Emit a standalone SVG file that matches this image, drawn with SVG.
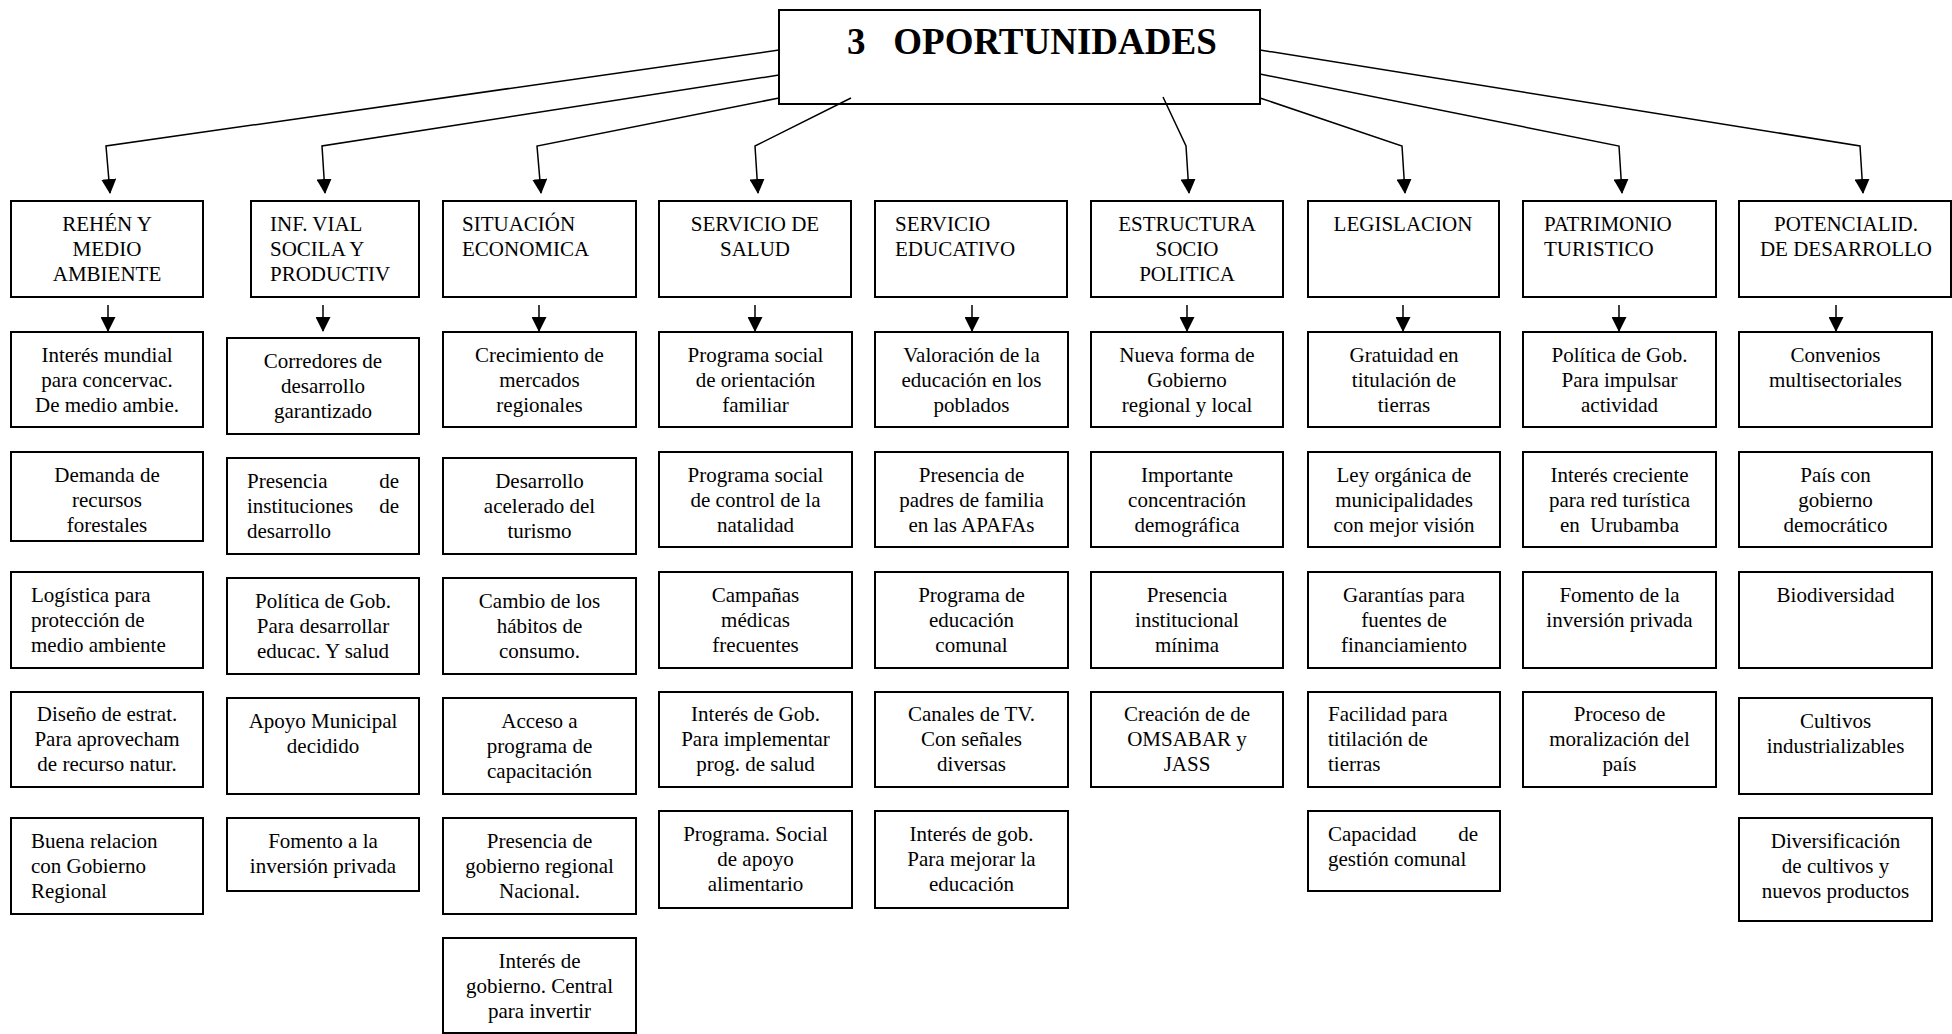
<svg xmlns="http://www.w3.org/2000/svg" width="1952" height="1034" viewBox="0 0 1952 1034">
<style>
.box{fill:#fff;stroke:#000;stroke-width:2}
.t{font-family:"Liberation Serif","Times New Roman",serif;font-size:21px;fill:#000}
.c{text-anchor:middle}
.ttl{font-family:"Liberation Serif","Times New Roman",serif;font-size:37px;font-weight:bold;fill:#000}
.conn{fill:none;stroke:#000;stroke-width:1.5;marker-end:url(#ah)}
</style>
<defs>
<marker id="ah" markerUnits="userSpaceOnUse" markerWidth="15" markerHeight="15" viewBox="0 0 15 15" refX="14" refY="7.5" orient="auto"><path d="M0,0 L15,7.5 L0,15 z" fill="#000"/></marker>
</defs>
<rect width="1952" height="1034" fill="#fff"/>

<g id="root"><rect class="box" x="779" y="10" width="481" height="94"/><text class="ttl" x="847" y="54" xml:space="preserve">3   OPORTUNIDADES</text></g>

<g id="connectors">
<polyline class="conn" points="779,50 106,146 110,193"/>
<polyline class="conn" points="779,75 322,146 325,193"/>
<polyline class="conn" points="779,98 537,146 541,193"/>
<polyline class="conn" points="851,98 755,146 758,193"/>
<polyline class="conn" points="1163,97 1186,146 1189,193"/>
<polyline class="conn" points="1260,98 1402,146 1405,193"/>
<polyline class="conn" points="1260,74 1619,146 1622,193"/>
<polyline class="conn" points="1260,50 1860,146 1863,193"/>
<line class="conn" x1="108" y1="305" x2="108" y2="331"/>
<line class="conn" x1="323" y1="305" x2="323" y2="331"/>
<line class="conn" x1="539" y1="305" x2="539" y2="331"/>
<line class="conn" x1="755" y1="305" x2="755" y2="331"/>
<line class="conn" x1="972" y1="305" x2="972" y2="331"/>
<line class="conn" x1="1187" y1="305" x2="1187" y2="331"/>
<line class="conn" x1="1403" y1="305" x2="1403" y2="331"/>
<line class="conn" x1="1619" y1="305" x2="1619" y2="331"/>
<line class="conn" x1="1836" y1="305" x2="1836" y2="331"/>
</g>

<g id="cat1"><rect class="box" x="11" y="201" width="192" height="96"/><text class="t c"><tspan x="107" y="231">REHÉN Y</tspan><tspan x="107" y="256">MEDIO</tspan><tspan x="107" y="281">AMBIENTE</tspan></text></g>
<g id="cat2"><rect class="box" x="251" y="201" width="168" height="96"/><text class="t"><tspan x="270" y="231">INF. VIAL</tspan><tspan x="270" y="256">SOCILA Y</tspan><tspan x="270" y="281">PRODUCTIV</tspan></text></g>
<g id="cat3"><rect class="box" x="443" y="201" width="193" height="96"/><text class="t"><tspan x="462" y="231">SITUACIÓN</tspan><tspan x="462" y="256">ECONOMICA</tspan></text></g>
<g id="cat4"><rect class="box" x="659" y="201" width="192" height="96"/><text class="t c"><tspan x="755" y="231">SERVICIO DE</tspan><tspan x="755" y="256">SALUD</tspan></text></g>
<g id="cat5"><rect class="box" x="875" y="201" width="192" height="96"/><text class="t"><tspan x="895" y="231">SERVICIO</tspan><tspan x="895" y="256">EDUCATIVO</tspan></text></g>
<g id="cat6"><rect class="box" x="1091" y="201" width="192" height="96"/><text class="t c"><tspan x="1187" y="231">ESTRUCTURA</tspan><tspan x="1187" y="256">SOCIO</tspan><tspan x="1187" y="281">POLITICA</tspan></text></g>
<g id="cat7"><rect class="box" x="1308" y="201" width="191" height="96"/><text class="t c"><tspan x="1403" y="231">LEGISLACION</tspan></text></g>
<g id="cat8"><rect class="box" x="1523" y="201" width="193" height="96"/><text class="t"><tspan x="1544" y="231">PATRIMONIO</tspan><tspan x="1544" y="256">TURISTICO</tspan></text></g>
<g id="cat9"><rect class="box" x="1739" y="201" width="212" height="96"/><text class="t c"><tspan x="1846" y="231">POTENCIALID.</tspan><tspan x="1846" y="256">DE DESARROLLO</tspan></text></g>

<g id="c1r1"><rect class="box" x="11" y="332" width="192" height="95"/><text class="t c"><tspan x="107" y="362">Interés mundial</tspan><tspan x="107" y="387">para concervac.</tspan><tspan x="107" y="412">De medio ambie.</tspan></text></g>
<g id="c1r2"><rect class="box" x="11" y="452" width="192" height="89"/><text class="t c"><tspan x="107" y="482">Demanda de</tspan><tspan x="107" y="507">recursos</tspan><tspan x="107" y="532">forestales</tspan></text></g>
<g id="c1r3"><rect class="box" x="11" y="572" width="192" height="96"/><text class="t"><tspan x="31" y="602">Logística para</tspan><tspan x="31" y="627">protección de</tspan><tspan x="31" y="652">medio ambiente</tspan></text></g>
<g id="c1r4"><rect class="box" x="11" y="692" width="192" height="95"/><text class="t c"><tspan x="107" y="721">Diseño de estrat.</tspan><tspan x="107" y="746">Para aprovecham</tspan><tspan x="107" y="771">de recurso natur.</tspan></text></g>
<g id="c1r5"><rect class="box" x="11" y="818" width="192" height="96"/><text class="t"><tspan x="31" y="848">Buena relacion</tspan><tspan x="31" y="873">con Gobierno</tspan><tspan x="31" y="898">Regional</tspan></text></g>

<g id="c2r1"><rect class="box" x="227" y="338" width="192" height="96"/><text class="t c"><tspan x="323" y="368">Corredores de</tspan><tspan x="323" y="393">desarrollo</tspan><tspan x="323" y="418">garantizado</tspan></text></g>
<g id="c2r2"><rect class="box" x="227" y="458" width="192" height="96"/><text class="t"><tspan x="247" y="488">Presencia</tspan> <tspan x="399" y="488" text-anchor="end">de</tspan><tspan x="247" y="513">instituciones</tspan> <tspan x="399" y="513" text-anchor="end">de</tspan><tspan x="247" y="538">desarrollo</tspan></text></g>
<g id="c2r3"><rect class="box" x="227" y="578" width="192" height="96"/><text class="t c"><tspan x="323" y="608">Política de Gob.</tspan><tspan x="323" y="633">Para desarrollar</tspan><tspan x="323" y="658">educac. Y salud</tspan></text></g>
<g id="c2r4"><rect class="box" x="227" y="698" width="192" height="96"/><text class="t c"><tspan x="323" y="728">Apoyo Municipal</tspan><tspan x="323" y="753">decidido</tspan></text></g>
<g id="c2r5"><rect class="box" x="227" y="818" width="192" height="73"/><text class="t c"><tspan x="323" y="848">Fomento a la</tspan><tspan x="323" y="873">inversión privada</tspan></text></g>

<g id="c3r1"><rect class="box" x="443" y="332" width="193" height="95"/><text class="t c"><tspan x="539.5" y="362">Crecimiento de</tspan><tspan x="539.5" y="387">mercados</tspan><tspan x="539.5" y="412">regionales</tspan></text></g>
<g id="c3r2"><rect class="box" x="443" y="458" width="193" height="96"/><text class="t c"><tspan x="539.5" y="488">Desarrollo</tspan><tspan x="539.5" y="513">acelerado del</tspan><tspan x="539.5" y="538">turismo</tspan></text></g>
<g id="c3r3"><rect class="box" x="443" y="578" width="193" height="96"/><text class="t c"><tspan x="539.5" y="608">Cambio de los</tspan><tspan x="539.5" y="633">hábitos de</tspan><tspan x="539.5" y="658">consumo.</tspan></text></g>
<g id="c3r4"><rect class="box" x="443" y="698" width="193" height="96"/><text class="t c"><tspan x="539.5" y="728">Acceso a</tspan><tspan x="539.5" y="753">programa de</tspan><tspan x="539.5" y="778">capacitación</tspan></text></g>
<g id="c3r5"><rect class="box" x="443" y="818" width="193" height="96"/><text class="t c"><tspan x="539.5" y="848">Presencia de</tspan><tspan x="539.5" y="873">gobierno regional</tspan><tspan x="539.5" y="898">Nacional.</tspan></text></g>
<g id="c3r6"><rect class="box" x="443" y="938" width="193" height="95"/><text class="t c"><tspan x="539.5" y="968">Interés de</tspan><tspan x="539.5" y="993">gobierno. Central</tspan><tspan x="539.5" y="1018">para invertir</tspan></text></g>

<g id="c4r1"><rect class="box" x="659" y="332" width="193" height="95"/><text class="t c"><tspan x="755.5" y="362">Programa social</tspan><tspan x="755.5" y="387">de orientación</tspan><tspan x="755.5" y="412">familiar</tspan></text></g>
<g id="c4r2"><rect class="box" x="659" y="452" width="193" height="95"/><text class="t c"><tspan x="755.5" y="482">Programa social</tspan><tspan x="755.5" y="507">de control de la</tspan><tspan x="755.5" y="532">natalidad</tspan></text></g>
<g id="c4r3"><rect class="box" x="659" y="572" width="193" height="96"/><text class="t c"><tspan x="755.5" y="602">Campañas</tspan><tspan x="755.5" y="627">médicas</tspan><tspan x="755.5" y="652">frecuentes</tspan></text></g>
<g id="c4r4"><rect class="box" x="659" y="692" width="193" height="95"/><text class="t c"><tspan x="755.5" y="721">Interés de Gob.</tspan><tspan x="755.5" y="746">Para implementar</tspan><tspan x="755.5" y="771">prog. de salud</tspan></text></g>
<g id="c4r5"><rect class="box" x="659" y="811" width="193" height="97"/><text class="t c"><tspan x="755.5" y="841">Programa. Social</tspan><tspan x="755.5" y="866">de apoyo</tspan><tspan x="755.5" y="891">alimentario</tspan></text></g>

<g id="c5r1"><rect class="box" x="875" y="332" width="193" height="95"/><text class="t c"><tspan x="971.5" y="362">Valoración de la</tspan><tspan x="971.5" y="387">educación en los</tspan><tspan x="971.5" y="412">poblados</tspan></text></g>
<g id="c5r2"><rect class="box" x="875" y="452" width="193" height="95"/><text class="t c"><tspan x="971.5" y="482">Presencia de</tspan><tspan x="971.5" y="507">padres de familia</tspan><tspan x="971.5" y="532">en las APAFAs</tspan></text></g>
<g id="c5r3"><rect class="box" x="875" y="572" width="193" height="96"/><text class="t c"><tspan x="971.5" y="602">Programa de</tspan><tspan x="971.5" y="627">educación</tspan><tspan x="971.5" y="652">comunal</tspan></text></g>
<g id="c5r4"><rect class="box" x="875" y="692" width="193" height="95"/><text class="t c"><tspan x="971.5" y="721">Canales de TV.</tspan><tspan x="971.5" y="746">Con señales</tspan><tspan x="971.5" y="771">diversas</tspan></text></g>
<g id="c5r5"><rect class="box" x="875" y="811" width="193" height="97"/><text class="t c"><tspan x="971.5" y="841">Interés de gob.</tspan><tspan x="971.5" y="866">Para mejorar la</tspan><tspan x="971.5" y="891">educación</tspan></text></g>

<g id="c6r1"><rect class="box" x="1091" y="332" width="192" height="95"/><text class="t c"><tspan x="1187" y="362">Nueva forma de</tspan><tspan x="1187" y="387">Gobierno</tspan><tspan x="1187" y="412">regional y local</tspan></text></g>
<g id="c6r2"><rect class="box" x="1091" y="452" width="192" height="95"/><text class="t c"><tspan x="1187" y="482">Importante</tspan><tspan x="1187" y="507">concentración</tspan><tspan x="1187" y="532">demográfica</tspan></text></g>
<g id="c6r3"><rect class="box" x="1091" y="572" width="192" height="96"/><text class="t c"><tspan x="1187" y="602">Presencia</tspan><tspan x="1187" y="627">institucional</tspan><tspan x="1187" y="652">mínima</tspan></text></g>
<g id="c6r4"><rect class="box" x="1091" y="692" width="192" height="95"/><text class="t c"><tspan x="1187" y="721">Creación de de</tspan><tspan x="1187" y="746">OMSABAR y</tspan><tspan x="1187" y="771">JASS</tspan></text></g>

<g id="c7r1"><rect class="box" x="1308" y="332" width="192" height="95"/><text class="t c"><tspan x="1404" y="362">Gratuidad en</tspan><tspan x="1404" y="387">titulación de</tspan><tspan x="1404" y="412">tierras</tspan></text></g>
<g id="c7r2"><rect class="box" x="1308" y="452" width="192" height="95"/><text class="t c"><tspan x="1404" y="482">Ley orgánica de</tspan><tspan x="1404" y="507">municipalidades</tspan><tspan x="1404" y="532">con mejor visión</tspan></text></g>
<g id="c7r3"><rect class="box" x="1308" y="572" width="192" height="96"/><text class="t c"><tspan x="1404" y="602">Garantías para</tspan><tspan x="1404" y="627">fuentes de</tspan><tspan x="1404" y="652">financiamiento</tspan></text></g>
<g id="c7r4"><rect class="box" x="1308" y="692" width="192" height="95"/><text class="t"><tspan x="1328" y="721">Facilidad para</tspan><tspan x="1328" y="746">titilación de</tspan><tspan x="1328" y="771">tierras</tspan></text></g>
<g id="c7r5"><rect class="box" x="1308" y="811" width="192" height="80"/><text class="t"><tspan x="1328" y="841">Capacidad</tspan> <tspan x="1478" y="841" text-anchor="end">de</tspan><tspan x="1328" y="866">gestión comunal</tspan></text></g>

<g id="c8r1"><rect class="box" x="1523" y="332" width="193" height="95"/><text class="t c"><tspan x="1619.5" y="362">Política de Gob.</tspan><tspan x="1619.5" y="387">Para impulsar</tspan><tspan x="1619.5" y="412">actividad</tspan></text></g>
<g id="c8r2"><rect class="box" x="1523" y="452" width="193" height="95"/><text class="t c" xml:space="preserve"><tspan x="1619.5" y="482">Interés creciente</tspan><tspan x="1619.5" y="507">para red turística</tspan><tspan x="1619.5" y="532">en  Urubamba</tspan></text></g>
<g id="c8r3"><rect class="box" x="1523" y="572" width="193" height="96"/><text class="t c"><tspan x="1619.5" y="602">Fomento de la</tspan><tspan x="1619.5" y="627">inversión privada</tspan></text></g>
<g id="c8r4"><rect class="box" x="1523" y="692" width="193" height="95"/><text class="t c"><tspan x="1619.5" y="721">Proceso de</tspan><tspan x="1619.5" y="746">moralización del</tspan><tspan x="1619.5" y="771">país</tspan></text></g>

<g id="c9r1"><rect class="box" x="1739" y="332" width="193" height="95"/><text class="t c"><tspan x="1835.5" y="362">Convenios</tspan><tspan x="1835.5" y="387">multisectoriales</tspan></text></g>
<g id="c9r2"><rect class="box" x="1739" y="452" width="193" height="95"/><text class="t c"><tspan x="1835.5" y="482">País con</tspan><tspan x="1835.5" y="507">gobierno</tspan><tspan x="1835.5" y="532">democrático</tspan></text></g>
<g id="c9r3"><rect class="box" x="1739" y="572" width="193" height="96"/><text class="t c"><tspan x="1835.5" y="602">Biodiversidad</tspan></text></g>
<g id="c9r4"><rect class="box" x="1739" y="698" width="193" height="96"/><text class="t c"><tspan x="1835.5" y="728">Cultivos</tspan><tspan x="1835.5" y="753">industrializables</tspan></text></g>
<g id="c9r5"><rect class="box" x="1739" y="818" width="193" height="103"/><text class="t c"><tspan x="1835.5" y="848">Diversificación</tspan><tspan x="1835.5" y="873">de cultivos y</tspan><tspan x="1835.5" y="898">nuevos productos</tspan></text></g>
</svg>
